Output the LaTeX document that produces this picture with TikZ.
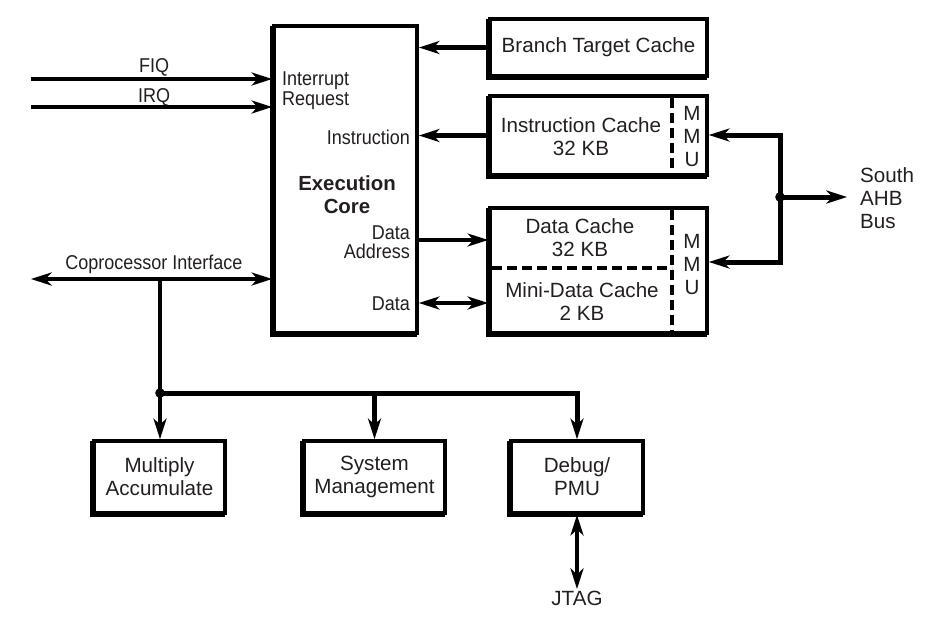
\documentclass[tikz,border=0pt]{standalone}
\usepackage{fontspec}
\setmainfont{Liberation Sans}
\newfontfamily\narrowsans[FakeStretch=0.9]{Liberation Sans}
\usetikzlibrary{arrows.meta}
\definecolor{ink}{HTML}{231F20}
\begin{document}
\begin{tikzpicture}[x=1pt,y=-1pt,
  every node/.style={font=\fontsize{20.6}{23}\selectfont, text=ink},
  blk/.style={draw=black, fill=white, line width=3.8pt, inner sep=0pt, align=center,
    preaction={draw=black, line width=3.8pt, transform canvas={shift={(-2pt,-2pt)}}}},
  tip/.tip={Stealth[length=21pt,width=13.5pt,inset=6.5pt,line width=0pt]},
  arr/.style={line width=4.6pt, -tip},
  darr/.style={line width=4.6pt, tip-tip},
  bus/.style={line width=5pt},
  dsh/.style={line width=3.6pt, dash pattern=on 10pt off 5pt},
  lbl/.style={inner sep=0pt},
  side/.style={inner sep=0pt, font=\narrowsans\fontsize{20}{20}\selectfont}]
\useasboundingbox (0,0) rectangle (926,619);

% blocks
\node[blk, minimum width=143pt, minimum height=307pt] (core) at (345.5,179.5) {};
\node[blk, minimum width=217pt, minimum height=57pt] (btc) at (598.5,47.5) {Branch Target Cache};
\node[blk, minimum width=217pt, minimum height=79pt] (ic) at (598.5,135.5) {};
\node[blk, minimum width=217pt, minimum height=125pt] (dc) at (598.5,270.5) {};
\node[blk, minimum width=131pt, minimum height=72pt] (mac) at (159.5,477) {Multiply\\Accumulate};
\node[blk, minimum width=141pt, minimum height=72pt] (sys) at (374.5,477) {System\\Management};
\node[blk, minimum width=132pt, minimum height=72pt] (dbg) at (577,477) {Debug/\\PMU};

% dividers
\draw[dsh] (672,98) -- (672,174);
\draw[dsh] (672,210) -- (672,332);
\draw[dsh] (492,268) -- (672,268);

% texts inside
\node[side, align=left, anchor=west] (ir) at (282,91) {Interrupt\\Request};
\node[side, anchor=base east] (ins) at (410,144) {Instruction};
\node[lbl, align=center, font=\fontsize{20.4}{23}\selectfont\bfseries] (ec) at (347,195) {Execution\\Core};
\node[side, align=right, anchor=east, font=\narrowsans\fontsize{20}{19}\selectfont] (da) at (410,242) {Data\\Address};
\node[side, anchor=base east] (dat) at (410,310) {Data};
\node[lbl, align=center] (ict) at (581,137) {Instruction Cache\\32 KB};
\node[lbl, align=center] (dct) at (580,238) {Data Cache\\32 KB};
\node[lbl, align=center] (mdt) at (582,302) {Mini-Data Cache\\2 KB};
\node[lbl, align=center] (mmu1) at (692,137) {M\\M\\U};
\node[lbl, align=center] (mmu2) at (692,265) {M\\M\\U};
\node[lbl, align=left, anchor=west] (ahb) at (860,198) {South\\AHB\\Bus};
\node[side, anchor=base] (fiqt) at (154,72.5) {FIQ};
\node[side, anchor=base] (irqt) at (154,102) {IRQ};
\node[side, anchor=base] (cpt) at (154,269) {Coprocessor Interface};
\node[anchor=base, inner sep=2pt] (jtag) at (577,605.5) {JTAG};

% coordinates
\coordinate (fiq) at (31,79);
\coordinate (irq) at (31,107);
\coordinate (cpl) at (31,279);
\coordinate (pda) at (0,240);
\coordinate (pd) at (0,303);
\coordinate (j1) at (780,197);
\coordinate (mt) at (780,135);
\coordinate (mb) at (780,262);
\coordinate (bus) at (847,197);
\coordinate (cpt0) at (160,279);
\coordinate (j2) at (160,393);

% connectors
\draw[arr] (btc.west) -- (btc.west -| core.east);
\draw[arr] (ic.west) -- (ic.west -| core.east);
\draw[arr] (core.east |- pda) -- (dc.west |- pda);
\draw[darr] (core.east |- pd) -- (dc.west |- pd);
\draw[arr, line width=4pt] (fiq) -- (fiq -| core.west);
\draw[arr, line width=4pt] (irq) -- (irq -| core.west);
\draw[darr] (cpl) -- (cpl -| core.west);
\draw[arr, bus] (j1) -- (mt) -- (mt -| ic.east);
\draw[arr, bus] (j1) -- (mb) -- (mb -| dc.east);
\draw[arr, bus] (j1) -- (bus);
\fill (j1) circle (4.8pt);
\draw[line width=4.5pt] (cpt0) -- (j2);
\draw[arr] (j2) -- (j2 |- mac.north);
\draw[arr, bus] (j2) -| (dbg.north);
\draw[arr] (j2 -| sys.north) -- (sys.north);
\fill (j2) circle (4.8pt);
\draw[darr] (dbg.south) -- (jtag.north);
\end{tikzpicture}
\end{document}
